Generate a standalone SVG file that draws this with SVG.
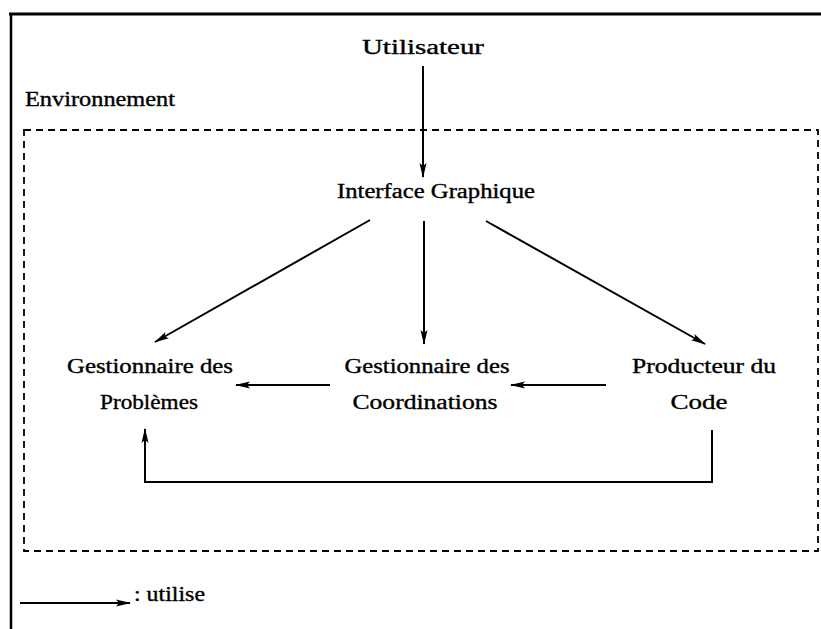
<svg xmlns="http://www.w3.org/2000/svg" width="821" height="629" viewBox="0 0 821 629">
<style>
  text { font-family: "Liberation Serif", "Times New Roman", serif; font-size: 20px; fill: #000; stroke: #000; stroke-width: 0.35; }
  .mid { text-anchor: middle; }
  .edge { fill: none; stroke: #000; stroke-width: 2; }
  .frame { fill: none; stroke: #000; }
</style>
<defs>
  <marker id="ah" viewBox="0 0 15 9" refX="14" refY="4.5" markerWidth="15" markerHeight="9" markerUnits="userSpaceOnUse" orient="auto">
    <path d="M0,1 L15,4.5 L0,8 L3,4.5 Z" fill="#000"/>
  </marker>
</defs>
<rect width="821" height="629" fill="#fff"/>
<g id="frame">
  <line class="frame" x1="9" y1="14" x2="821" y2="14" stroke-width="3"/>
  <line class="frame" x1="11" y1="13" x2="11" y2="629" stroke-width="2.5"/>
  <rect class="frame" x="24" y="130" width="794" height="421" stroke-width="1.8" stroke-dasharray="7,5"/>
</g>
<g id="environnement"><text x="25" y="106" textLength="150" lengthAdjust="spacingAndGlyphs">Environnement</text></g>
<g id="utilisateur"><text class="mid" x="423" y="54" textLength="122" lengthAdjust="spacingAndGlyphs">Utilisateur</text></g>
<g id="interface"><text class="mid" x="436" y="198" textLength="198" lengthAdjust="spacingAndGlyphs">Interface Graphique</text></g>
<g id="problemes">
  <text class="mid" x="150" y="373" textLength="166" lengthAdjust="spacingAndGlyphs">Gestionnaire des</text>
  <text class="mid" x="149" y="409" textLength="98" lengthAdjust="spacingAndGlyphs">Problèmes</text>
</g>
<g id="coordinations">
  <text class="mid" x="427" y="373" textLength="165" lengthAdjust="spacingAndGlyphs">Gestionnaire des</text>
  <text class="mid" x="425" y="409" textLength="145" lengthAdjust="spacingAndGlyphs">Coordinations</text>
</g>
<g id="producteur">
  <text class="mid" x="704" y="373" textLength="144" lengthAdjust="spacingAndGlyphs">Producteur du</text>
  <text class="mid" x="699" y="409" textLength="57" lengthAdjust="spacingAndGlyphs">Code</text>
</g>
<g id="connectors">
  <line class="edge" x1="423" y1="66" x2="423" y2="177" marker-end="url(#ah)"/>
  <line class="edge" x1="370" y1="220" x2="155" y2="342" marker-end="url(#ah)"/>
  <line class="edge" x1="424" y1="221" x2="424" y2="344" marker-end="url(#ah)"/>
  <line class="edge" x1="486" y1="221" x2="705" y2="344" marker-end="url(#ah)"/>
  <line class="edge" x1="330" y1="385" x2="236" y2="385" marker-end="url(#ah)"/>
  <line class="edge" x1="606" y1="385" x2="511" y2="385" marker-end="url(#ah)"/>
  <polyline class="edge" points="712,430 712,482 145,482 145,429" marker-end="url(#ah)"/>
</g>
<g id="legend">
  <line class="edge" x1="20" y1="603" x2="130" y2="603" marker-end="url(#ah)"/>
  <text x="134" y="601" textLength="71" lengthAdjust="spacingAndGlyphs">: utilise</text>
</g>
</svg>
